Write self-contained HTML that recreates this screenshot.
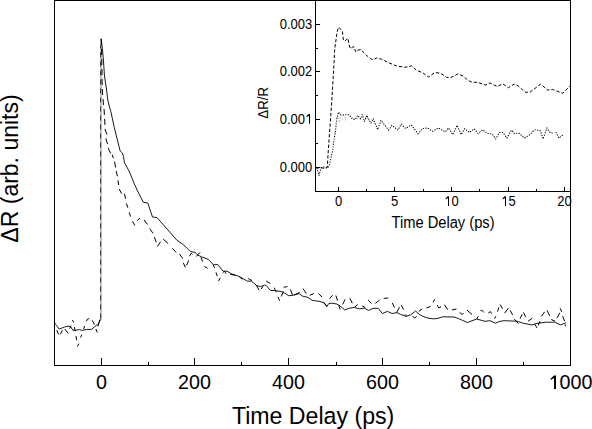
<!DOCTYPE html>
<html><head><meta charset="utf-8"><style>
html,body{margin:0;padding:0;background:#fff;}
svg{display:block;}
text{font-family:"Liberation Sans",sans-serif;fill:#000;}
</style></head><body>
<svg width="592" height="429" viewBox="0 0 592 429">
<rect x="0" y="0" width="592" height="429" fill="#fff"/>
<g fill="none" stroke="#000" stroke-width="1" stroke-linejoin="round">
<polyline points="54.5,322.8 56.5,325.5 59.2,329.1 64.5,327.0 69.0,326.0 70.8,327.0 72.9,330.3 75.0,330.3 79.3,329.6 82.5,330.4 86.6,329.4 91.5,329.4 97.6,324.3 98.5,323.5 100.6,319.5" stroke-width="0.9"/>
<polyline points="101.2,38.5 102.3,48.0 103.4,60.0 104.5,76.0 106.3,88.0 107.8,100.0 109.7,108.0 110.8,111.3 114.3,127.6 117.8,141.6 120.1,150.9 122.3,153.0 123.5,156.5 124.4,162.8 129.1,171.0 134.3,183.8 137.1,190.0 143.2,202.1 147.8,203.1 152.5,217.0 157.0,217.6 171.5,234.0 177.0,240.3 183.7,244.9 190.4,251.6 195.0,252.3 198.0,255.2 201.7,256.9 208.4,259.4 213.5,264.9 217.7,264.4 223.1,271.2 227.0,271.2 231.2,273.7 238.8,276.3 243.4,278.8 247.4,281.2 251.5,281.1 256.6,285.5 260.5,286.6 264.3,285.2 265.8,285.2 270.3,290.3 275.0,290.6 280.9,291.5 282.5,291.8 288.7,295.7 292.9,295.3 299.2,293.6 302.5,296.1 308.0,297.4 312.2,300.3 320.0,301.5 323.8,302.8 326.7,306.5 328.8,303.6 331.7,303.2 336.8,304.0 339.7,305.7 344.7,309.9 349.3,308.2 354.4,307.4 356.0,308.0 359.4,308.9 364.4,308.0 368.6,310.5 372.8,308.4 378.2,308.3 382.4,313.5 387.4,311.4 392.1,313.5 397.0,312.6 400.4,314.3 406.3,316.4 410.9,314.7 415.5,311.0 419.7,314.7 423.9,316.8 428.0,318.1 433.9,318.9 438.9,318.1 442.7,316.8 454.0,317.0 458.2,318.5 463.2,320.6 467.4,322.5 476.6,319.0 485.0,321.3 490.0,320.7 495.4,323.2 500.1,321.3 504.2,320.7 516.8,321.2 523.5,323.3 531.9,324.9 537.0,323.3 546.3,322.2 554.6,322.2 560.5,324.9 566.0,322.8" stroke-width="0.9"/>
<line x1="101" y1="319.5" x2="101" y2="39" stroke-width="0.5"/>
<line x1="100.6" y1="45" x2="100.6" y2="320" stroke-width="0.75" stroke-dasharray="5 4" stroke-dashoffset="1.5"/>
<polyline points="101.2,39.0 101.8,60.0 102.3,90.0 103.5,105.0 104.1,110.0 104.7,120.0 105.2,130.0 107.0,134.4 105.8,137.9 107.0,142.6 108.1,144.9 108.7,149.5 110.5,153.0 112.8,156.5" stroke-dasharray="6 4"/>
<polyline points="56.8,330.2 58.5,334.4"/><polyline points="60.3,334.4 62.4,330.2"/><polyline points="64.8,329.1 68.3,333.3"/><polyline points="69.6,328.6 71.1,325.6"/><polyline points="72.5,320.0 73.6,322.5"/><polyline points="74.3,327.0 75.3,331.2"/><polyline points="76.0,336.1 76.7,340.3"/><polyline points="77.4,346.5 78.8,343.6"/><polyline points="80.5,337.5 81.9,334.7"/><polyline points="83.6,329.1 84.7,326.0"/><polyline points="86.4,321.3 87.2,319.3 89.2,318.5"/><polyline points="92.3,320.4 93.7,323.0 94.2,324.6"/><polyline points="95.9,329.1 97.3,332.5"/><polyline points="97.9,326.5 99.8,319.5"/>
<polyline points="112.2,154.7 113.3,158.2"/><polyline points="114.5,161.7 115.7,167.5"/><polyline points="116.2,171.0 117.4,176.2"/><polyline points="118.0,180.3 118.6,185.0"/><polyline points="119.2,189.1 121.6,193.6"/><polyline points="124.5,193.7 125.5,198.9"/><polyline points="126.4,203.5 127.8,207.7"/><polyline points="129.2,212.4 130.6,216.6"/><polyline points="132.5,221.2 134.8,225.4"/><polyline points="137.1,220.8 139.9,218.0"/><polyline points="144.1,219.9 147.5,224.5"/><polyline points="149.6,228.5 153.0,233.4"/><polyline points="154.2,237.0 156.3,242.2"/><polyline points="157.4,246.5 160.5,241.8"/><polyline points="163.2,239.1 168.2,243.6"/><polyline points="172.4,248.3 176.1,252.4"/><polyline points="179.5,254.1 182.8,258.7"/><polyline points="183.3,262.9 185.4,267.5"/><polyline points="186.6,265.4 188.7,260.4"/><polyline points="189.5,256.2 191.2,253.3 192.5,254.5"/><polyline points="196.3,256.5 200.1,252.3"/><polyline points="200.9,257.3 202.6,261.5"/><polyline points="204.3,266.5 207.6,268.2"/><polyline points="213.0,264.9 214.7,267.8"/><polyline points="216.0,272.4 217.3,276.2"/><polyline points="218.5,281.2 220.2,277.9"/><polyline points="222.7,272.8 224.4,271.2 226.1,273.7"/><polyline points="230.2,274.3 235.3,275.3"/><polyline points="239.3,276.8 242.4,279.3"/><polyline points="248.2,278.5 252.0,280.6"/><polyline points="256.2,285.2 259.1,290.2"/><polyline points="261.2,289.0 262.9,286.4"/><polyline points="266.2,281.0 270.4,283.5"/><polyline points="274.2,287.7 276.3,292.3"/><polyline points="278.0,296.9 279.6,300.7"/><polyline points="281.3,296.5 283.4,291.5"/><polyline points="283.7,287.3 287.5,286.5"/><polyline points="290.4,289.4 292.5,294.9"/><polyline points="294.2,294.9 299.6,292.4"/><polyline points="303.0,288.6 306.3,293.6"/><polyline points="309.7,295.3 313.9,293.6"/><polyline points="318.5,293.6 322.0,297.0"/><polyline points="323.4,301.9 327.1,306.5"/><polyline points="329.6,298.6 332.6,295.2"/><polyline points="335.9,295.6 337.6,300.7"/><polyline points="338.9,305.3 340.1,309.5"/><polyline points="342.6,304.4 345.2,299.4"/><polyline points="349.8,298.2 352.3,303.2"/><polyline points="354.4,307.4 357.7,304.4"/><polyline points="362.3,306.0 365.2,307.4"/><polyline points="368.2,300.1 371.5,303.4"/><polyline points="375.3,303.4 379.5,300.1"/><polyline points="383.7,298.4 388.3,298.0"/><polyline points="392.3,303.0 394.5,307.6"/><polyline points="396.6,312.6 399.5,307.2"/><polyline points="401.2,305.1 403.7,309.7"/><polyline points="405.0,314.3 406.7,316.0"/><polyline points="412.5,316.0 414.6,318.1 416.7,316.4"/><polyline points="418.8,311.4 422.2,308.9"/><polyline points="426.4,308.0 430.6,306.4"/><polyline points="433.0,302.2 434.7,299.2"/><polyline points="437.2,305.1 438.9,308.0 441.0,306.8"/><polyline points="444.4,304.7 447.7,309.7"/><polyline points="451.9,310.1 456.5,308.9"/><polyline points="459.9,312.2 462.0,314.7 463.6,313.1"/><polyline points="467.0,310.1 472.0,314.5"/><polyline points="476.6,319.2 478.3,316.2"/><polyline points="480.4,311.2 481.6,309.9 483.7,312.4"/><polyline points="488.3,312.9 490.4,311.6 491.7,313.7"/><polyline points="494.6,318.7 495.9,316.2"/><polyline points="497.5,311.6 498.8,307.4"/><polyline points="500.1,304.5 502.6,308.7"/><polyline points="504.6,313.2 508.4,308.2"/><polyline points="510.1,310.3 512.6,314.9"/><polyline points="514.3,319.1 518.4,323.7"/><polyline points="520.1,318.6 522.2,314.4"/><polyline points="523.5,312.4 525.6,317.0"/><polyline points="528.1,321.2 532.3,318.2"/><polyline points="534.8,324.1 536.9,327.9"/><polyline points="538.2,325.4 540.0,321.2"/><polyline points="541.2,316.5 544.6,311.9"/><polyline points="547.1,310.3 549.6,315.7"/><polyline points="551.3,319.5 555.1,321.2"/><polyline points="557.2,317.8 559.7,312.8"/><polyline points="560.1,308.2 561.8,311.9"/><polyline points="562.6,316.1 564.7,321.2"/><polyline points="565.1,324.5 565.5,326.2"/>
</g>
<g fill="none" stroke="#000" stroke-width="1" shape-rendering="crispEdges">
<rect x="54.5" y="0.5" width="516" height="365"/>
<line x1="101.5" y1="358" x2="101.5" y2="365"/><line x1="148.5" y1="362" x2="148.5" y2="365"/><line x1="194.5" y1="358" x2="194.5" y2="365"/><line x1="241.5" y1="362" x2="241.5" y2="365"/><line x1="288.5" y1="358" x2="288.5" y2="365"/><line x1="336.5" y1="362" x2="336.5" y2="365"/><line x1="382.5" y1="358" x2="382.5" y2="365"/><line x1="429.5" y1="362" x2="429.5" y2="365"/><line x1="476.5" y1="358" x2="476.5" y2="365"/><line x1="523.5" y1="362" x2="523.5" y2="365"/>
</g>
<g transform="translate(101.50,389.00) scale(1,1.0)" font-size="19.7"><text x="-5.48" y="0">0</text></g><g transform="translate(194.50,389.00) scale(1,1.0)" font-size="19.7"><text x="-16.43" y="0">200</text></g><g transform="translate(288.50,389.00) scale(1,1.0)" font-size="19.7"><text x="-16.43" y="0">400</text></g><g transform="translate(382.50,389.00) scale(1,1.0)" font-size="19.7"><text x="-16.43" y="0">600</text></g><g transform="translate(476.50,389.00) scale(1,1.0)" font-size="19.7"><text x="-16.43" y="0">800</text></g><g transform="translate(570.50,389.00) scale(1,1.0)" font-size="19.7"><path d="M-16.50,0 L-16.50,-11.02 L-19.77,-8.99 L-19.77,-10.62 L-16.45,-13.55 L-14.50,-13.55 L-14.50,0 Z" fill="#000"/><text x="-10.96" y="0">000</text></g>
<text x="313.1" y="424" font-size="23.15" text-anchor="middle">Time Delay (ps)</text>
<text transform="translate(18,168.5) rotate(-90)" font-size="23" text-anchor="middle" x="0" y="0">&#916;R (arb. units)</text>
<!-- inset -->
<g fill="none" stroke-width="1" stroke-linejoin="round">
<polyline points="315.5,167.5 318.0,168.0 321.0,167.5 324.0,168.5 326.0,168.0 327.3,167.5 328.3,150.0 331.2,110.0 332.6,88.0 334.2,60.0 334.5,51.8 335.4,43.9 336.3,37.9 337.3,31.0 338.7,27.1 339.6,28.1 342.4,31.3 342.9,36.5 343.5,40.0 344.7,41.1 348.0,38.3 348.5,42.0 350.3,48.6 352.6,47.2 354.0,46.7 355.0,50.0 355.9,51.8 356.8,50.4 361.0,49.5 362.0,50.4 363.8,52.8 366.2,55.1 368.5,57.0 370.8,58.8 373.2,59.8 376.8,57.9 381.7,59.3 388.0,62.4 396.4,65.9 404.8,67.3 411.7,65.9 416.0,70.1 423.0,72.9 428.5,77.1 434.9,72.5 440.5,73.2 446.8,77.4 451.0,77.4 458.0,73.9 462.9,76.0 467.8,80.2 472.0,82.3 477.6,82.3 485.2,85.1 490.1,83.0 497.1,86.5 502.8,83.8 508.4,87.7 514.0,84.1 518.2,85.9 525.2,92.2 530.1,92.2 540.6,84.1 547.6,90.1 552.4,89.4 562.9,93.3 569.9,85.9" stroke="#000" stroke-dasharray="3.3 2"/>
<polyline points="315.5,170.0 317.0,168.0 319.0,175.5 321.0,168.0 324.0,167.0 327.0,168.0 329.0,166.5 330.5,160.0 332.7,150.3 334.2,138.2 335.5,131.7 336.5,120.0 338.4,112.1 340.3,114.9 344.9,114.9 348.7,114.5 352.4,119.1 355.2,119.6 357.5,115.4 360.8,119.1 362.2,114.5 364.5,121.5 366.8,115.4 371.0,123.3 373.4,118.6 377.6,129.6 381.0,120.3 388.6,130.1 392.0,125.3 397.9,130.1 401.3,124.0 405.5,128.4 411.4,125.0 418.1,133.8 422.4,128.7 427.4,127.9 432.5,131.3 438.4,127.9 445.2,131.8 448.5,127.9 452.8,134.6 457.0,125.3 461.2,134.6 464.6,128.7 469.6,132.5 474.3,128.8 478.0,133.5 482.7,129.7 487.3,133.5 492.0,133.8 495.7,139.0 499.4,132.5 503.1,132.5 506.8,138.1 511.5,130.1 514.3,133.5 518.9,133.1 524.5,138.1 530.1,134.4 534.7,129.7 540.3,130.7 543.1,139.0 546.8,127.9 550.5,133.1 553.0,133.0" stroke="#000" stroke-width="1.1" stroke-linecap="round" stroke-dasharray="0.3 2.3"/>
<polyline points="556.1,132.5 558.9,138.1 563.5,134.4" stroke="#000" stroke-width="1.1" stroke-linecap="round" stroke-dasharray="0.3 2.3"/>
<polyline points="334.5,133.0 336.0,125.4 336.9,117.5 338.7,117.2 339.2,122.5 340.7,117.5 342.7,119.3 344.5,117.2 345.9,120.4 348.0,115.2 349.4,114.3 350.9,116.1 353.0,118.0 356.4,119.6 358.5,118.1 360.8,119.3 362.0,114.3 363.4,120.1 366.0,117.0 369.0,121.0 372.0,119.0 375.0,124.0" stroke="#999" stroke-dasharray="1 2"/>
</g>
<g fill="none" stroke="#000" stroke-width="1" shape-rendering="crispEdges">
<line x1="315.5" y1="0" x2="315.5" y2="191.5"/>
<line x1="315" y1="191.5" x2="571" y2="191.5"/>
<line x1="338.5" y1="187" x2="338.5" y2="191"/><line x1="366.5" y1="189" x2="366.5" y2="191"/><line x1="394.5" y1="187" x2="394.5" y2="191"/><line x1="423.5" y1="189" x2="423.5" y2="191"/><line x1="451.5" y1="187" x2="451.5" y2="191"/><line x1="479.5" y1="189" x2="479.5" y2="191"/><line x1="508.5" y1="187" x2="508.5" y2="191"/><line x1="536.5" y1="189" x2="536.5" y2="191"/><line x1="564.5" y1="187" x2="564.5" y2="191"/><line x1="315.5" y1="167.5" x2="319.5" y2="167.5"/><line x1="315.5" y1="143.5" x2="317.5" y2="143.5"/><line x1="315.5" y1="119.5" x2="319.5" y2="119.5"/><line x1="315.5" y1="95.5" x2="317.5" y2="95.5"/><line x1="315.5" y1="71.5" x2="319.5" y2="71.5"/><line x1="315.5" y1="48.5" x2="317.5" y2="48.5"/><line x1="315.5" y1="24.5" x2="319.5" y2="24.5"/>
</g>
<g transform="translate(338.50,206.00) scale(1,1.1)" font-size="13"><text x="-3.61" y="0">0</text></g><g transform="translate(394.50,206.00) scale(1,1.1)" font-size="13"><text x="-3.61" y="0">5</text></g><g transform="translate(451.50,206.00) scale(1,1.1)" font-size="13"><path d="M-3.50,0 L-3.50,-7.27 L-5.81,-5.94 L-5.81,-7.01 L-3.79,-8.94 L-2.50,-8.94 L-2.50,0 Z" fill="#000"/><text x="0.00" y="0">0</text></g><g transform="translate(508.50,206.00) scale(1,1.1)" font-size="13"><path d="M-3.50,0 L-3.50,-7.27 L-5.81,-5.94 L-5.81,-7.01 L-3.79,-8.94 L-2.50,-8.94 L-2.50,0 Z" fill="#000"/><text x="0.00" y="0">5</text></g><g transform="translate(564.50,206.00) scale(1,1.1)" font-size="13"><text x="-7.23" y="0">20</text></g><g transform="translate(312.30,171.80) scale(1,1.1)" font-size="13"><text x="-32.53" y="0">0.000</text></g><g transform="translate(312.30,123.80) scale(1,1.1)" font-size="13"><text x="-32.53" y="0">0.00</text><path d="M-3.30,0 L-3.30,-7.27 L-5.81,-5.94 L-5.81,-7.01 L-3.59,-8.94 L-2.30,-8.94 L-2.30,0 Z" fill="#000"/></g><g transform="translate(312.30,75.80) scale(1,1.1)" font-size="13"><text x="-32.53" y="0">0.002</text></g><g transform="translate(312.30,28.80) scale(1,1.1)" font-size="13"><text x="-32.53" y="0">0.003</text></g>
<text transform="translate(443,228) scale(1,1.06)" font-size="14.7" text-anchor="middle">Time Delay (ps)</text>
<text transform="translate(268,102.8) rotate(-90) scale(1,1.1)" font-size="13.3" text-anchor="middle">&#916;R/R</text>
</svg>
</body></html>
